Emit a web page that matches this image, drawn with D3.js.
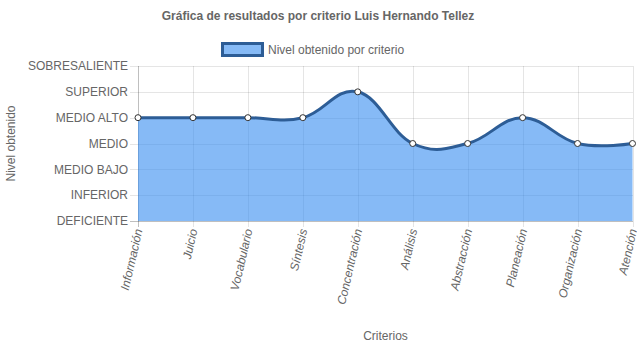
<!DOCTYPE html>
<html>
<head>
<meta charset="utf-8">
<script src="https://cdn.jsdelivr.net/npm/d3@7"></script>
<style>
  body { margin: 0; background: #fff; }
  svg text { font-family: "Liberation Sans", Arial, sans-serif; fill: #666; }
</style>
</head>
<body>
<svg width="637" height="348"></svg>
<script>
const criterios = ["Información", "Juicio", "Vocabulario", "Síntesis", "Concentración",
  "Análisis", "Abstracción", "Planeación", "Organización", "Atención"];
const niveles = ["DEFICIENTE", "INFERIOR", "MEDIO BAJO", "MEDIO", "MEDIO ALTO", "SUPERIOR", "SOBRESALIENTE"];
// index into niveles
const valores = [4, 4, 4, 4, 5, 3, 3, 4, 3, 3];

const svg = d3.select("svg"),
  margin = { top: 66, right: 4, bottom: 127, left: 138 },
  width = 637 - margin.left - margin.right,
  height = 348 - margin.top - margin.bottom;

const g = svg.append("g")
  .attr("transform", "translate(" + margin.left + "," + margin.top + ")");

const x = d3.scalePoint().domain(criterios).range([0, width - 0.5]);
const y = d3.scaleLinear().domain([0, niveles.length - 1]).range([height, 0]);

// grid
g.append("g")
  .selectAll("line")
  .data(d3.range(niveles.length))
  .join("line")
  .attr("x1", -8).attr("x2", width)
  .attr("y1", d => Math.round(y(d)) + 0.5).attr("y2", d => Math.round(y(d)) + 0.5)
  .attr("stroke", d => d === 0 ? "rgba(0,0,0,0.25)" : "rgba(0,0,0,0.1)");

g.append("g")
  .selectAll("line")
  .data(criterios)
  .join("line")
  .attr("x1", d => Math.round(x(d)) + 0.5).attr("x2", d => Math.round(x(d)) + 0.5)
  .attr("y1", 0).attr("y2", height + 6)
  .attr("stroke", (d, i) => i === 0 ? "rgba(0,0,0,0.25)" : "rgba(0,0,0,0.1)");

// y labels
g.append("g")
  .selectAll("text")
  .data(niveles)
  .join("text")
  .attr("x", -10)
  .attr("y", (d, i) => y(i))
  .attr("dy", "0.35em")
  .attr("text-anchor", "end")
  .style("font-size", "12px")
  .text(d => d);

// x labels
g.append("g")
  .selectAll("text")
  .data(criterios)
  .join("text")
  .attr("transform", d => "translate(" + (x(d) + 0.5) + "," + (height + 8) + ") rotate(-77)")
  .attr("dy", "0.35em")
  .attr("text-anchor", "end")
  .style("font-size", "12px")
  .style("font-style", "italic")
  .text(d => d);

// area + line
const curve = d3.curveCardinal.tension(-0.2);
const area = d3.area()
  .x((d, i) => x(criterios[i]))
  .y0(height)
  .y1(d => y(d))
  .curve(curve);
const line = d3.line()
  .x((d, i) => x(criterios[i]))
  .y(d => y(d))
  .curve(curve);

g.append("path")
  .datum(valores)
  .attr("d", area)
  .attr("fill", "rgba(54,140,240,0.6)");

g.append("path")
  .datum(valores)
  .attr("d", line)
  .attr("fill", "none")
  .attr("stroke", "#2d5d96")
  .attr("stroke-width", 3);

g.append("g")
  .selectAll("circle")
  .data(valores)
  .join("circle")
  .attr("cx", (d, i) => x(criterios[i]))
  .attr("cy", d => y(d))
  .attr("r", 3)
  .attr("fill", "#fff")
  .attr("stroke", "#333")
  .attr("stroke-width", 1);

// titles
svg.append("text")
  .attr("x", 318).attr("y", 20)
  .attr("text-anchor", "middle")
  .style("font-size", "12px")
  .style("font-weight", "bold")
  .text("Gráfica de resultados por criterio Luis Hernando Tellez");

svg.append("rect")
  .attr("x", 222.5).attr("y", 43.5)
  .attr("width", 40).attr("height", 12)
  .attr("fill", "rgba(54,140,240,0.6)")
  .attr("stroke", "#2d5d96")
  .attr("stroke-width", 3);
svg.append("text")
  .attr("x", 268).attr("y", 54)
  .style("font-size", "12px")
  .text("Nivel obtenido por criterio");

svg.append("text")
  .attr("transform", "translate(15," + (margin.top + height / 2) + ") rotate(-90)")
  .attr("text-anchor", "middle")
  .style("font-size", "12px")
  .text("Nivel obtenido");

svg.append("text")
  .attr("x", margin.left + width / 2).attr("y", 340)
  .attr("text-anchor", "middle")
  .style("font-size", "12px")
  .text("Criterios");
</script>
</body>
</html>
